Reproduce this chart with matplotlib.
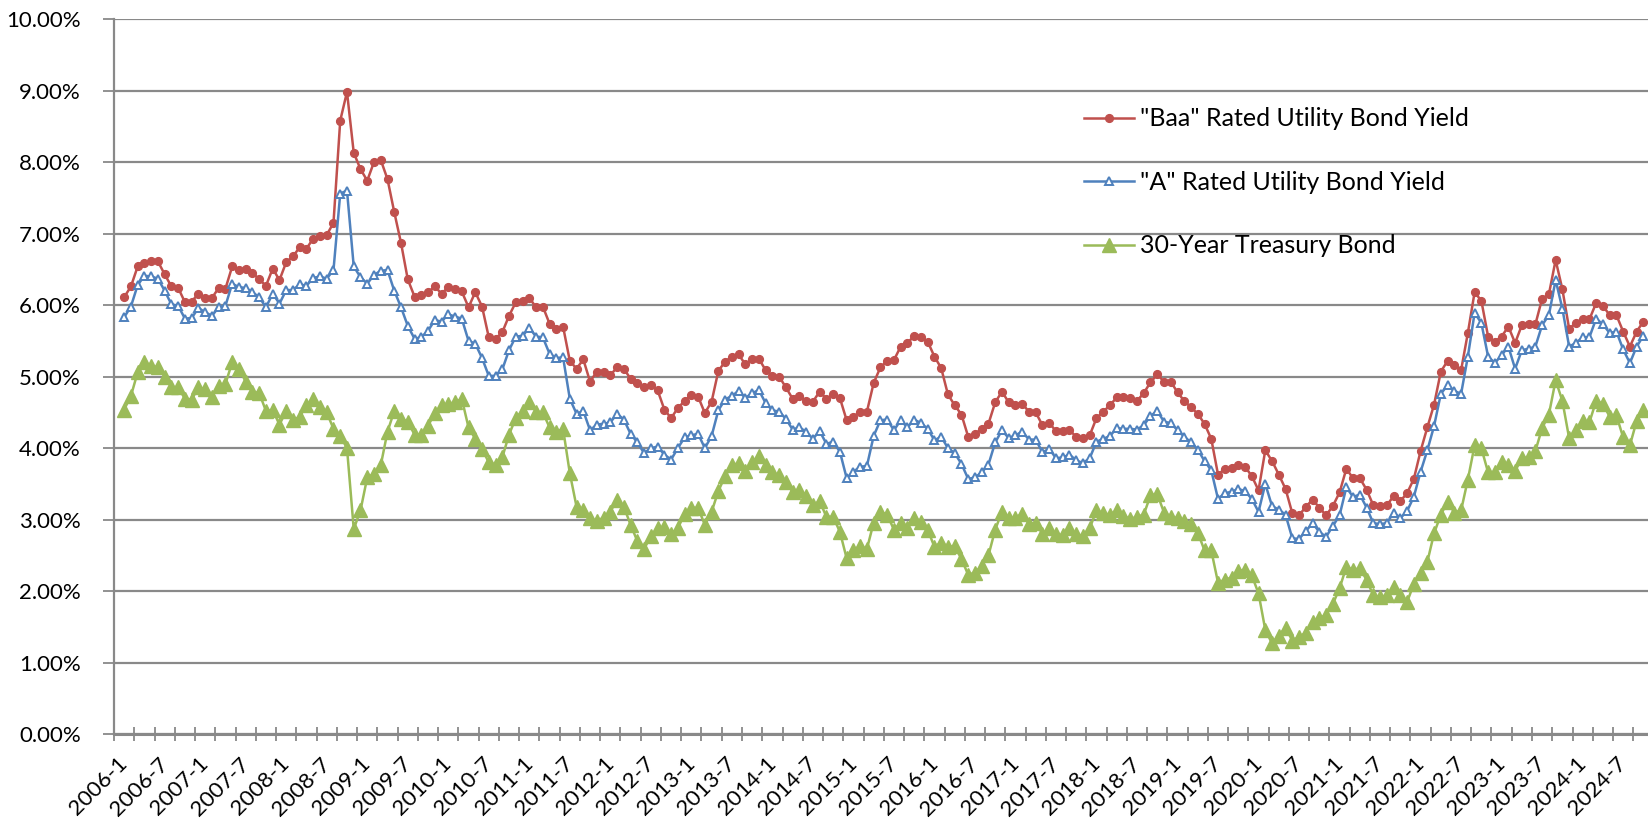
import numpy as np
import matplotlib.pyplot as plt
from matplotlib.ticker import FixedLocator, PercentFormatter

plt.rcParams['font.family'] = ['Lato', 'DejaVu Sans']

# category labels, one per month (Jan 2006 has no data)
months = [f"{y}-{m}" for y in range(2006, 2025) for m in range(1, 13)]

# monthly yields in percent, Feb 2006 - Nov 2024
baa = [6.11, 6.26, 6.54, 6.59, 6.61, 6.61, 6.43, 6.26, 6.24, 6.04, 6.05,
       6.16, 6.10, 6.10, 6.24, 6.23, 6.54, 6.49, 6.51, 6.45, 6.36, 6.27, 6.51,
       6.35, 6.60, 6.68, 6.81, 6.79, 6.93, 6.97, 6.98, 7.15, 8.58, 8.98, 8.13,
       7.90, 7.74, 8.00, 8.03, 7.76, 7.30, 6.87, 6.36, 6.12, 6.14, 6.18, 6.26,
       6.16, 6.25, 6.22, 6.19, 5.97, 6.18, 5.98, 5.55, 5.53, 5.62, 5.85, 6.04,
       6.06, 6.10, 5.97, 5.98, 5.74, 5.67, 5.70, 5.22, 5.11, 5.24, 4.93, 5.07,
       5.06, 5.02, 5.13, 5.11, 4.97, 4.91, 4.85, 4.88, 4.81, 4.54, 4.42, 4.56,
       4.66, 4.74, 4.72, 4.49, 4.65, 5.08, 5.21, 5.28, 5.31, 5.17, 5.24, 5.25,
       5.09, 5.01, 5.00, 4.85, 4.69, 4.73, 4.66, 4.65, 4.79, 4.69, 4.75, 4.70,
       4.39, 4.44, 4.51, 4.51, 4.91, 5.13, 5.22, 5.23, 5.42, 5.47, 5.57, 5.55,
       5.49, 5.28, 5.12, 4.75, 4.60, 4.47, 4.16, 4.20, 4.27, 4.34, 4.64, 4.79,
       4.64, 4.61, 4.62, 4.51, 4.50, 4.32, 4.35, 4.24, 4.24, 4.25, 4.16, 4.14,
       4.18, 4.42, 4.51, 4.60, 4.71, 4.72, 4.70, 4.66, 4.77, 4.92, 5.03, 4.93,
       4.93, 4.78, 4.66, 4.57, 4.48, 4.34, 4.13, 3.63, 3.71, 3.72, 3.76, 3.74,
       3.61, 3.41, 3.97, 3.82, 3.63, 3.43, 3.09, 3.06, 3.18, 3.28, 3.17, 3.06,
       3.19, 3.38, 3.71, 3.58, 3.58, 3.42, 3.20, 3.19, 3.20, 3.33, 3.26, 3.37,
       3.57, 3.96, 4.29, 4.61, 5.07, 5.22, 5.16, 5.09, 5.61, 6.18, 6.06, 5.56,
       5.49, 5.56, 5.70, 5.47, 5.72, 5.74, 5.73, 6.09, 6.15, 6.63, 6.22, 5.67,
       5.75, 5.81, 5.80, 6.03, 5.99, 5.86, 5.86, 5.63, 5.42, 5.63, 5.77]

a_rated = [5.83, 5.98, 6.28, 6.41, 6.40, 6.37, 6.20, 6.01, 5.99, 5.81, 5.82,
           5.96, 5.90, 5.85, 5.97, 5.99, 6.30, 6.25, 6.24, 6.18, 6.11, 5.97, 6.16,
           6.02, 6.21, 6.21, 6.29, 6.27, 6.38, 6.40, 6.37, 6.49, 7.56, 7.60, 6.54,
           6.39, 6.30, 6.42, 6.48, 6.49, 6.20, 5.97, 5.71, 5.53, 5.55, 5.64, 5.79,
           5.77, 5.87, 5.84, 5.81, 5.50, 5.46, 5.26, 5.01, 5.01, 5.10, 5.37, 5.56,
           5.57, 5.68, 5.56, 5.55, 5.32, 5.26, 5.27, 4.69, 4.48, 4.52, 4.25, 4.33,
           4.34, 4.36, 4.48, 4.40, 4.20, 4.08, 3.93, 4.00, 4.02, 3.91, 3.84, 4.00,
           4.15, 4.18, 4.20, 4.00, 4.17, 4.53, 4.68, 4.73, 4.80, 4.70, 4.77, 4.81,
           4.63, 4.53, 4.51, 4.41, 4.26, 4.29, 4.23, 4.13, 4.24, 4.06, 4.09, 3.95,
           3.58, 3.67, 3.74, 3.75, 4.17, 4.39, 4.40, 4.25, 4.39, 4.29, 4.40, 4.35,
           4.27, 4.11, 4.16, 4.00, 3.93, 3.78, 3.57, 3.59, 3.66, 3.77, 4.08, 4.25,
           4.14, 4.18, 4.23, 4.12, 4.12, 3.94, 3.99, 3.86, 3.87, 3.91, 3.83, 3.79,
           3.86, 4.09, 4.13, 4.17, 4.28, 4.27, 4.27, 4.26, 4.32, 4.45, 4.52, 4.37,
           4.35, 4.25, 4.16, 4.08, 3.98, 3.82, 3.69, 3.29, 3.37, 3.39, 3.43, 3.40,
           3.29, 3.11, 3.50, 3.19, 3.14, 3.07, 2.74, 2.73, 2.84, 2.95, 2.83, 2.76,
           2.91, 3.06, 3.45, 3.32, 3.35, 3.17, 2.95, 2.94, 2.95, 3.10, 3.02, 3.12,
           3.32, 3.67, 3.97, 4.31, 4.76, 4.88, 4.80, 4.76, 5.28, 5.89, 5.75, 5.28,
           5.19, 5.30, 5.42, 5.11, 5.37, 5.39, 5.42, 5.72, 5.86, 6.35, 5.95, 5.42,
           5.47, 5.55, 5.55, 5.81, 5.73, 5.61, 5.63, 5.38, 5.19, 5.42, 5.57]

treasury = [4.54, 4.73, 5.06, 5.20, 5.15, 5.13, 5.00, 4.85, 4.85, 4.69, 4.68,
            4.85, 4.82, 4.72, 4.87, 4.90, 5.20, 5.11, 4.93, 4.79, 4.77, 4.52, 4.53,
            4.33, 4.52, 4.39, 4.44, 4.60, 4.69, 4.57, 4.50, 4.27, 4.17, 4.00, 2.87,
            3.13, 3.59, 3.64, 3.76, 4.23, 4.52, 4.41, 4.37, 4.19, 4.19, 4.31, 4.49,
            4.60, 4.62, 4.64, 4.69, 4.29, 4.13, 3.99, 3.80, 3.77, 3.87, 4.19, 4.42,
            4.52, 4.65, 4.51, 4.50, 4.29, 4.23, 4.27, 3.65, 3.18, 3.13, 3.02, 2.98,
            3.03, 3.11, 3.28, 3.18, 2.93, 2.70, 2.59, 2.77, 2.88, 2.90, 2.80, 2.88,
            3.08, 3.17, 3.16, 2.93, 3.11, 3.40, 3.61, 3.76, 3.79, 3.68, 3.80, 3.89,
            3.77, 3.66, 3.62, 3.52, 3.39, 3.42, 3.33, 3.20, 3.26, 3.04, 3.04, 2.83,
            2.46, 2.57, 2.63, 2.59, 2.96, 3.11, 3.07, 2.86, 2.95, 2.89, 3.03, 2.97,
            2.86, 2.62, 2.68, 2.62, 2.63, 2.45, 2.23, 2.26, 2.35, 2.50, 2.86, 3.11,
            3.02, 3.03, 3.08, 2.94, 2.96, 2.80, 2.88, 2.80, 2.78, 2.88, 2.80, 2.77,
            2.88, 3.13, 3.09, 3.07, 3.13, 3.05, 3.01, 3.04, 3.07, 3.34, 3.36, 3.10,
            3.04, 3.02, 2.98, 2.94, 2.82, 2.57, 2.57, 2.12, 2.16, 2.19, 2.28, 2.30,
            2.22, 1.97, 1.46, 1.27, 1.38, 1.49, 1.31, 1.36, 1.42, 1.57, 1.62, 1.67,
            1.82, 2.04, 2.34, 2.30, 2.32, 2.16, 1.94, 1.92, 1.94, 2.06, 1.94, 1.85,
            2.10, 2.25, 2.41, 2.81, 3.07, 3.25, 3.10, 3.13, 3.56, 4.04, 4.00, 3.66,
            3.66, 3.80, 3.77, 3.68, 3.86, 3.87, 3.96, 4.28, 4.47, 4.95, 4.66, 4.14,
            4.26, 4.38, 4.36, 4.66, 4.62, 4.44, 4.46, 4.15, 4.04, 4.38, 4.54]

x = np.arange(1, len(baa) + 1)   # position 0 is 2006-1

grid_color = '#898989'

fig = plt.figure(figsize=(16.48, 8.25), dpi=100)
ax = fig.add_axes([0.0692, 0.110, 0.9308, 0.867])

ax.plot(x, baa, color='#C0504D', lw=1.8, marker='o', ms=5.6,
        label='"Baa" Rated Utility Bond Yield')
ax.plot(x, a_rated, color='#4F81BD', lw=1.8, marker='^', ms=6.2,
        mfc='white', mec='#4F81BD', mew=1.4,
        label='"A" Rated Utility Bond Yield')
ax.plot(x, treasury, color='#9BBB59', lw=1.8, marker='^', ms=9.5,
        label='30-Year Treasury Bond')

ax.set_ylim(0, 10)
ax.set_xlim(-0.5, 226.68)
ax.set_yticks(np.arange(0, 11, 1))
ax.yaxis.set_major_formatter(PercentFormatter(xmax=100, decimals=2))
ax.yaxis.grid(True, color=grid_color, lw=1.6)
ax.set_axisbelow(True)

# labels every 6 months, tick marks every 3 months on category edges
ax.set_xticks(np.arange(0, len(months) - 5, 6))
ax.set_xticklabels(months[::6][:len(ax.get_xticks())], rotation=45,
                   ha='right', rotation_mode='anchor')
ax.xaxis.set_minor_locator(FixedLocator(np.arange(-0.5, 227, 3)))
ax.tick_params(axis='x', which='major', length=0, pad=14, labelsize=16)
ax.tick_params(axis='x', which='minor', length=10, direction='inout',
               color=grid_color, width=1.3)
ax.tick_params(axis='y', length=8, color=grid_color, width=1.3,
               labelsize=16, pad=16)

for side in ['top', 'right']:
    ax.spines[side].set_visible(False)
ax.spines['left'].set_color(grid_color)
ax.spines['left'].set_linewidth(1.6)
ax.spines['bottom'].set_color(grid_color)
ax.spines['bottom'].set_linewidth(2.2)

ax.legend(loc='upper left', bbox_to_anchor=(0.644, 0.897),
          bbox_transform=fig.transFigure, frameon=False, fontsize=18,
          handlelength=2.0, handletextpad=0.25, labelspacing=1.62)

fig.savefig('out.png', dpi=100)
